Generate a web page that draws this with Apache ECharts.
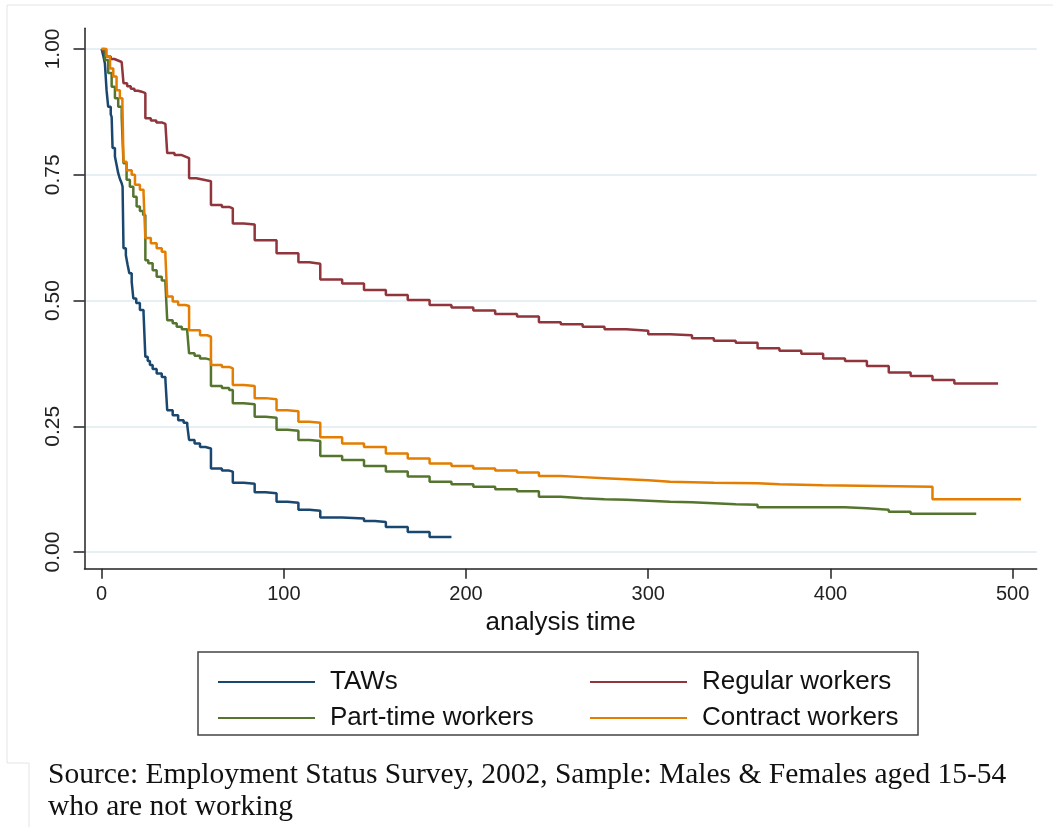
<!DOCTYPE html>
<html>
<head>
<meta charset="utf-8">
<title>Survival estimates</title>
<script src="https://cdn.jsdelivr.net/npm/echarts@6/dist/echarts.min.js"></script>
<style>
  html, body { margin: 0; padding: 0; background: #fff; }
  #chart { width: 1053px; height: 827px; }
</style>
</head>
<body>
<div id="chart"></div>
<script>
// tick labels
var xTicks = [0, 100, 200, 300, 400, 500];
var yTicks = [0, 0.25, 0.5, 0.75, 1];

var seriesNames = ['TAWs', 'Regular workers', 'Part-time workers', 'Contract workers'];

// [analysis time, survival]
var tawsData = [
  [0,1],[1,0.985],[1.8,0.971],[2.7,0.918],[3.6,0.885],[5,0.87],[5.5,0.865],[6,0.803],[7.3,0.786],
  [8.2,0.77],[9.1,0.753],[10,0.742],[11,0.733],[11.5,0.726],[12,0.604],[13.3,0.59],[14.2,0.572],
  [15.2,0.554],[16.5,0.537],[17.4,0.504],[19,0.495],[21,0.481],[23,0.475],[24,0.388],[25.3,0.38],
  [26.5,0.372],[28,0.364],[30.2,0.355],[33,0.348],[35,0.342],[36,0.282],[39,0.272],[42,0.262],
  [45,0.257],[47,0.252],[48,0.223],[51,0.216],[54,0.209],[57,0.206],[60,0.166],[66,0.162],
  [70,0.16],[72,0.138],[78,0.136],[84,0.119],[90,0.117],[96,0.1],[102,0.098],[108,0.084],
  [114,0.082],[120,0.069],[132,0.067],[144,0.062],[150,0.06],[156,0.05],[168,0.04],[180,0.03],[192,0.03]
];
var regularData = [
  [0,1],[1,0.995],[2,0.99],[3,0.985],[5,0.98],[7,0.977],[9,0.974],[11,0.971],[12,0.932],[14,0.926],
  [16,0.921],[18,0.917],[20,0.915],[22,0.912],[24,0.862],[27,0.858],[30,0.854],[33,0.851],[35,0.849],
  [36,0.793],[40,0.789],[44,0.786],[46,0.783],[48,0.743],[52,0.74],[56,0.737],[60,0.69],[66,0.686],
  [70,0.683],[72,0.653],[78,0.651],[84,0.62],[96,0.594],[108,0.576],[114,0.573],[120,0.542],
  [132,0.534],[144,0.521],[156,0.511],[168,0.501],[180,0.491],[192,0.486],[204,0.48],[216,0.473],
  [228,0.468],[240,0.457],[252,0.453],[264,0.448],[276,0.443],[288,0.44],[300,0.433],[312,0.431],
  [324,0.425],[336,0.42],[348,0.416],[360,0.405],[372,0.4],[384,0.394],[396,0.385],[408,0.38],
  [420,0.37],[432,0.357],[444,0.35],[456,0.342],[468,0.335],[492,0.335]
];
var partTimeData = [
  [0,1],[1.8,0.978],[3.6,0.952],[5.5,0.925],[7.3,0.902],[9.1,0.885],[11,0.865],[12,0.773],
  [13.7,0.74],[15.5,0.726],[17.4,0.706],[19.2,0.687],[21,0.678],[22.8,0.67],[24,0.58],[25.6,0.574],
  [28,0.56],[30.2,0.547],[33,0.54],[35,0.534],[36,0.461],[39,0.455],[41.2,0.448],[44,0.443],
  [47,0.438],[48,0.395],[51,0.39],[54,0.385],[57,0.382],[60,0.33],[66,0.326],[70,0.322],[72,0.296],
  [78,0.294],[84,0.269],[90,0.267],[96,0.243],[102,0.241],[108,0.223],[114,0.221],[120,0.191],
  [132,0.183],[144,0.171],[156,0.16],[168,0.15],[180,0.14],[192,0.135],[204,0.13],[216,0.125],
  [228,0.121],[240,0.11],[252,0.107],[264,0.105],[276,0.104],[288,0.102],[300,0.1],[312,0.099],
  [324,0.097],[336,0.095],[348,0.094],[360,0.089],[408,0.087],[420,0.084],[432,0.08],[444,0.076],[480,0.076]
];
var contractData = [
  [0,1],[2.7,0.985],[4.6,0.961],[6.4,0.945],[8.2,0.918],[10,0.902],[11.4,0.892],[12,0.776],
  [13.7,0.759],[16.5,0.75],[18.3,0.73],[21,0.72],[23,0.713],[24,0.624],[27,0.614],[30.2,0.604],
  [33,0.597],[35,0.59],[36,0.508],[39,0.498],[42,0.491],[46,0.489],[48,0.441],[54,0.431],[58,0.428],
  [60,0.372],[66,0.368],[70,0.365],[72,0.332],[78,0.33],[84,0.306],[90,0.304],[96,0.282],[102,0.28],
  [108,0.259],[114,0.257],[120,0.228],[132,0.216],[144,0.209],[156,0.196],[168,0.186],[180,0.176],
  [192,0.171],[204,0.166],[216,0.162],[228,0.158],[240,0.151],[252,0.149],[264,0.147],[276,0.145],
  [288,0.143],[300,0.14],[312,0.139],[324,0.138],[336,0.137],[360,0.135],[372,0.133],[396,0.13],
  [456,0.105],[504.6,0.105]
];

var colors = ['#1a476f', '#90353b', '#55752f', '#e37e00'];
var sans = 'Liberation Sans, Arial, Helvetica, sans-serif';

var km = {
    init: function () {
        var myChart = echarts.init(document.getElementById('chart'), null, {renderer: 'canvas'});
        myChart.setOption(km.option());
    },
    line: function (name, data, color) {
        return {
            name: name,
            type: 'line',
            step: 'end',
            symbol: 'none',
            data: data,
            lineStyle: {color: color, width: 2.5},
            itemStyle: {color: color},
            emphasis: {disabled: true}
        };
    },
    legend: function (names, left) {
        // 两列图例, 线段图标
        return {
            data: names,
            orient: 'vertical',
            left: left,
            top: 664,
            icon: 'rect',
            itemWidth: 97,
            itemHeight: 2,
            itemGap: 10,
            textStyle: {fontFamily: sans, fontSize: 26, color: '#111', padding: [0, 0, 0, 10]}
        };
    },
    option: function () {
        return {
            animation: false,
            backgroundColor: '#fff',
            color: colors,
            grid: {left: 84.5, top: 28.3, width: 952.2, height: 540.4, containLabel: false, outerBoundsMode: 'none'},
            xAxis: {
                type: 'value',
                min: -9.4,
                max: 513.2,
                name: 'analysis time',
                nameLocation: 'middle',
                nameGap: 40,
                nameTextStyle: {fontFamily: sans, fontSize: 26, color: '#111'},
                axisLine: {show: true, onZero: false, lineStyle: {color: '#222', width: 1.5}},
                axisTick: {show: true, length: 10, customValues: xTicks, lineStyle: {color: '#222', width: 1.5}},
                axisLabel: {customValues: xTicks, margin: 16, fontFamily: sans, fontSize: 20, color: '#222'},
                splitLine: {show: false}
            },
            yAxis: {
                type: 'value',
                min: -0.033,
                max: 1.041,
                axisLine: {show: true, onZero: false, lineStyle: {color: '#222', width: 1.5}},
                axisTick: {show: true, length: 11, customValues: yTicks, lineStyle: {color: '#222', width: 1.5}},
                axisLabel: {
                    customValues: yTicks, rotate: 90, margin: 21,
                    fontFamily: sans, fontSize: 21, color: '#222',
                    formatter: function (v) { return v.toFixed(2); }
                },
                splitLine: {show: true, lineStyle: {color: '#e6eff2', width: 2}}
            },
            legend: [
                km.legend(['TAWs', 'Part-time workers'], 213),
                km.legend(['Regular workers', 'Contract workers'], 585)
            ],
            graphic: [
                {type: 'rect', shape: {x: 198, y: 652, width: 720, height: 83}, style: {fill: 'none', stroke: '#444', lineWidth: 1.5}, silent: true},
                {type: 'polyline', shape: {points: [[1053, 5], [7, 5], [7, 763], [29, 763], [29, 827]]}, style: {fill: 'none', stroke: '#e4e4e4', lineWidth: 1}, silent: true},
                {
                    type: 'text', left: 48, top: 759, silent: true,
                    style: {
                        text: 'Source: Employment Status Survey, 2002, Sample: Males & Females aged 15-54\nwho are not working',
                        fontFamily: 'Liberation Serif, Times New Roman, serif', fontSize: 29.5, lineHeight: 32, fill: '#111'
                    }
                }
            ],
            series: [
                km.line(seriesNames[0], tawsData, colors[0]),
                km.line(seriesNames[1], regularData, colors[1]),
                km.line(seriesNames[2], partTimeData, colors[2]),
                km.line(seriesNames[3], contractData, colors[3])
            ]
        };
    }
};

km.init();
</script>
</body>
</html>
